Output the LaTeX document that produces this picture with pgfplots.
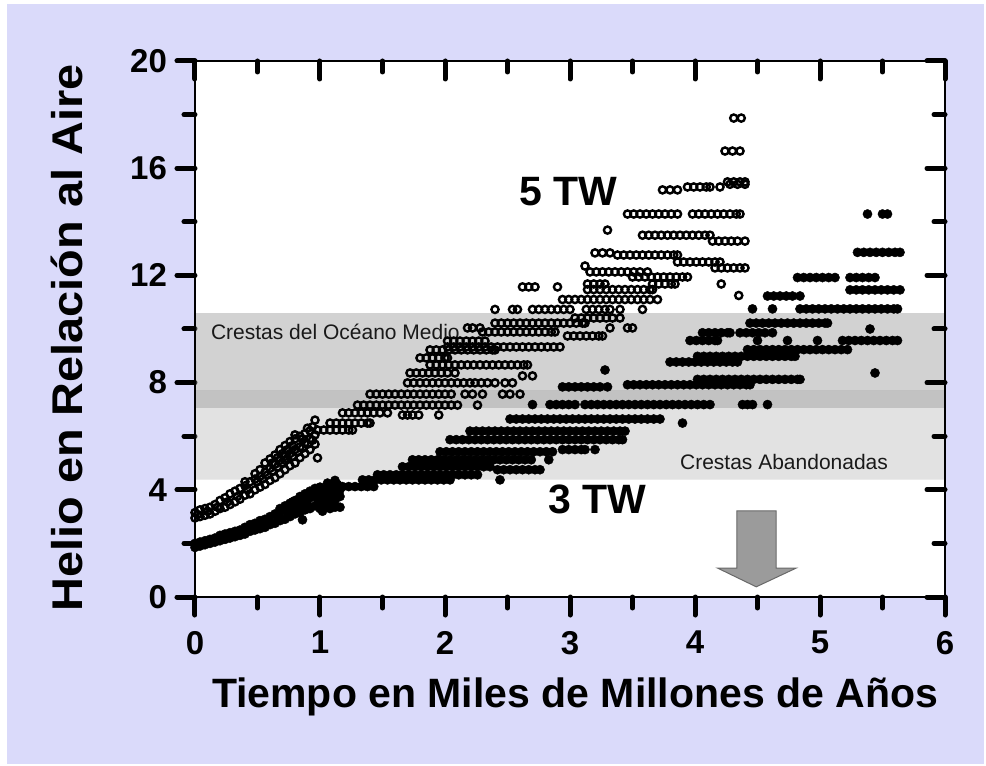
\documentclass[border=0pt]{standalone}
\usepackage{fontspec}
\setmainfont{Liberation Sans}
\usepackage{graphicx}
\usepackage{pgfplots}
\pgfplotsset{compat=1.18}
\newlength{\px}\setlength{\px}{0.5pt}
\definecolor{lav}{RGB}{218,218,250}
\definecolor{bandA}{RGB}{135,135,135}
\definecolor{bandB}{RGB}{157,157,157}
\definecolor{arrowfill}{RGB}{155,155,155}
\definecolor{arrowedge}{RGB}{105,105,105}
\pgfplotsset{
  framestyle/.style={
    at={(0,0)}, anchor=south west, scale only axis,
    width=750\px, height=536\px,
    xmin=0, xmax=6, ymin=0, ymax=20,
    xtick={0,1,2,3,4,5,6}, ytick={0,4,8,12,16,20},
    minor x tick num=1, minor y tick num=1,
    major tick length=18\px, minor tick length=11\px,
    tick style={line width=5\px, line cap=round, black},
    axis line style={line width=2.2\px},
  }
}
\begin{document}
\begin{tikzpicture}
\path[use as bounding box] (-195\px,-169\px) rectangle (791\px,597\px);
\fill[white] (-195\px,-169\px) rectangle (791\px,597\px);
\fill[lav] (-188\px,-167\px) rectangle (789\px,593\px);
\begin{axis}[framestyle,
  axis background/.style={fill=white},
  xtick pos=lower, ytick pos=lower, tick align=outside,
  ticklabel style={font=\fontsize{16.5}{19}\selectfont\bfseries},
  /pgf/number format/assume math mode=true,
  xticklabel style={yshift=-9\px},
  yticklabel style={xshift=-3\px},
]
% ---- 3 TW (filled) ----
\addplot[only marks, mark=*, mark size=4.6\px, mark options={fill=black, draw=black, line width=0.4\px}] coordinates {
(0,1.85)(0,2.0)(0.04,1.9)(0.04,2.05)(0.08,1.95)(0.08,2.1)(0.12,2.0)(0.12,2.15)(0.16,2.05)(0.16,2.2)
(0.2,2.1)(0.2,2.3)(0.24,2.15)(0.24,2.35)(0.28,2.2)(0.28,2.4)(0.32,2.25)(0.32,2.45)(0.36,2.3)(0.36,2.5)
(0.4,2.35)(0.4,2.6)(0.44,2.45)(0.44,2.7)(0.48,2.5)(0.48,2.75)(0.52,2.55)(0.52,2.85)(0.56,2.6)(0.56,2.9)
(0.6,2.7)(0.6,3.0)(0.64,2.75)(0.64,3.1)(0.68,2.85)(0.68,3.15)(0.68,3.3)(0.72,2.9)(0.72,3.25)(0.72,3.4)
(0.76,3.0)(0.76,3.3)(0.76,3.5)(0.8,3.1)(0.8,3.4)(0.8,3.6)(0.84,3.15)(0.84,3.5)(0.84,3.75)(0.86,2.88)
(0.88,3.25)(0.88,3.6)(0.88,3.85)(0.92,3.3)(0.92,3.7)(0.92,3.95)(0.96,3.4)(0.96,3.8)(0.96,4.05)
(1,3.3)(1,3.55)(1,3.9)(1,4.1)(1.04,3.4)(1.04,3.7)(1.04,4.0)(1.08,3.3)(1.08,3.5)(1.08,3.8)(1.08,4.1)
(1.12,3.35)(1.12,3.6)(1.12,3.9)(1.12,4.35)(1.16,3.35)(1.16,3.75)(1.16,4.0)
(0.02,1.95)(0.1,2.05)(0.18,2.15)(0.26,2.25)(0.34,2.4)(0.42,2.5)(0.5,2.65)(0.58,2.8)(0.66,3.0)(0.74,3.15)
(0.82,3.3)(0.9,3.45)(0.98,3.65)(1.06,3.9)(1.14,4.2)(1.02,3.2)(1.06,4.25)(0.78,3.55)(0.94,3.85)
(1.18,4.12)(1.23,4.12)(1.28,4.12)(1.33,4.12)(1.38,4.12)(1.43,4.12)
(1.34,4.37)(1.39,4.37)(1.44,4.37)(1.49,4.37)(1.54,4.37)(1.59,4.37)(1.64,4.37)(1.69,4.37)(1.74,4.37)(1.79,4.37)(1.84,4.37)(1.89,4.37)(1.94,4.37)(1.99,4.37)(2.04,4.37)(2.44,4.37)
(1.46,4.56)(1.51,4.56)(1.56,4.56)(1.61,4.56)(1.66,4.56)(1.71,4.56)(1.76,4.56)(1.81,4.56)(1.86,4.56)(1.91,4.56)(1.96,4.56)(2.01,4.56)(2.06,4.56)(2.11,4.56)(2.16,4.56)(2.21,4.56)(2.26,4.56)
(2.42,4.75)(2.47,4.75)(2.52,4.75)(2.57,4.75)(2.62,4.75)(2.67,4.75)(2.72,4.75)(2.76,4.75)
(1.66,4.86)(1.71,4.86)(1.76,4.86)(1.81,4.86)(1.86,4.86)(1.91,4.86)(1.96,4.86)(2.01,4.86)(2.06,4.86)(2.11,4.86)(2.16,4.86)(2.21,4.86)(2.26,4.86)(2.31,4.86)(2.36,4.86)
(1.74,5.12)(1.79,5.12)(1.84,5.12)(1.89,5.12)(1.94,5.12)(1.99,5.12)(2.04,5.12)(2.09,5.12)(2.14,5.12)(2.19,5.12)(2.24,5.12)(2.29,5.12)(2.34,5.12)(2.39,5.12)(2.44,5.12)(2.49,5.12)(2.54,5.12)(2.59,5.12)(2.64,5.12)(2.69,5.12)(2.83,5.12)
(1.96,5.42)(2.01,5.42)(2.06,5.42)(2.11,5.42)(2.16,5.42)(2.21,5.42)(2.26,5.42)(2.31,5.42)(2.36,5.42)(2.41,5.42)(2.46,5.42)(2.51,5.42)(2.56,5.42)(2.61,5.42)(2.66,5.42)(2.71,5.42)(2.76,5.42)(2.81,5.42)(2.86,5.42)
(2.94,5.5)(2.99,5.5)(3.04,5.5)(3.09,5.5)(3.12,5.5)(3.2,5.5)
(2.04,5.87)(2.09,5.87)(2.14,5.87)(2.19,5.87)(2.24,5.87)(2.29,5.87)(2.34,5.87)(2.39,5.87)(2.44,5.87)(2.49,5.87)(2.54,5.87)(2.59,5.87)(2.64,5.87)(2.69,5.87)(2.74,5.87)(2.79,5.87)(2.84,5.87)(2.89,5.87)(2.94,5.87)(2.99,5.87)(3.04,5.87)(3.09,5.87)(3.14,5.87)(3.19,5.87)(3.24,5.87)(3.29,5.87)(3.34,5.87)(3.39,5.87)(3.42,5.87)
(2.2,6.19)(2.25,6.19)(2.3,6.19)(2.35,6.19)(2.4,6.19)(2.45,6.19)(2.5,6.19)(2.55,6.19)(2.6,6.19)(2.65,6.19)(2.7,6.19)(2.75,6.19)(2.8,6.19)(2.85,6.19)(2.9,6.19)(2.95,6.19)(3.0,6.19)(3.05,6.19)(3.1,6.19)(3.15,6.19)(3.2,6.19)(3.25,6.19)(3.3,6.19)(3.35,6.19)(3.4,6.19)(3.44,6.19)
(2.52,6.64)(2.57,6.64)(2.62,6.64)(2.67,6.64)(2.72,6.64)(2.77,6.64)(2.82,6.64)(2.87,6.64)(2.92,6.64)(2.97,6.64)(3.02,6.64)(3.07,6.64)(3.12,6.64)(3.17,6.64)(3.22,6.64)(3.27,6.64)(3.32,6.64)(3.37,6.64)(3.42,6.64)(3.47,6.64)(3.52,6.64)(3.57,6.64)(3.62,6.64)(3.67,6.64)(3.72,6.64)(3.9,6.49)
(2.7,7.18)(2.84,7.18)(2.89,7.18)(2.94,7.18)(2.99,7.18)(3.04,7.18)(3.12,7.18)(3.17,7.18)(3.22,7.18)(3.27,7.18)(3.32,7.18)(3.37,7.18)(3.42,7.18)(3.47,7.18)(3.52,7.18)(3.57,7.18)(3.62,7.18)(3.67,7.18)(3.72,7.18)(3.77,7.18)(3.82,7.18)(3.87,7.18)(3.92,7.18)(3.97,7.18)(4.02,7.18)(4.07,7.18)(4.12,7.18)(4.38,7.18)(4.42,7.18)(4.46,7.18)(4.58,7.18)
(2.94,7.84)(2.99,7.84)(3.04,7.84)(3.09,7.84)(3.14,7.84)(3.19,7.84)(3.24,7.84)(3.3,7.84)
(3.46,7.92)(3.51,7.92)(3.56,7.92)(3.61,7.92)(3.66,7.92)(3.71,7.92)(3.76,7.92)(3.81,7.92)(3.86,7.92)(3.91,7.92)(3.96,7.92)(4.01,7.92)(4.06,7.92)(4.11,7.92)(4.16,7.92)(4.21,7.92)(4.26,7.92)(4.31,7.92)(4.36,7.92)(4.41,7.92)(4.44,7.92)
(4.02,8.12)(4.07,8.12)(4.12,8.12)(4.17,8.12)(4.22,8.12)(4.27,8.12)(4.32,8.12)(4.37,8.12)(4.42,8.12)(4.47,8.12)(4.52,8.12)(4.57,8.12)(4.62,8.12)(4.67,8.12)(4.72,8.12)(4.77,8.12)(4.82,8.12)(4.84,8.12)
(3.28,8.47)(5.44,8.36)
(3.8,8.77)(3.85,8.77)(3.9,8.77)(3.95,8.77)(4.0,8.77)(4.05,8.77)(4.1,8.77)(4.15,8.77)(4.2,8.77)(4.25,8.77)(4.3,8.77)(4.34,8.77)
(4.02,8.98)(4.07,8.98)(4.12,8.98)(4.17,8.98)(4.22,8.98)(4.27,8.98)(4.32,8.98)(4.37,8.98)(4.42,8.98)(4.47,8.98)(4.52,8.98)(4.57,8.98)(4.62,8.98)(4.67,8.98)(4.72,8.98)(4.77,8.98)(4.8,8.98)
(4.42,9.23)(4.47,9.23)(4.52,9.23)(4.57,9.23)(4.62,9.23)(4.67,9.23)(4.72,9.23)(4.77,9.23)(4.82,9.23)(4.87,9.23)(4.92,9.23)(4.97,9.23)(5.02,9.23)(5.07,9.23)(5.12,9.23)(5.17,9.23)(5.22,9.23)
(3.96,9.57)(4.01,9.57)(4.06,9.57)(4.11,9.57)(4.16,9.57)(4.18,9.57)(4.5,9.57)(4.74,9.57)(4.98,9.57)(5.18,9.57)(5.23,9.57)(5.28,9.57)(5.33,9.57)(5.38,9.57)(5.43,9.57)(5.48,9.57)(5.53,9.57)(5.58,9.57)(5.62,9.57)
(4.06,9.86)(4.11,9.86)(4.16,9.86)(4.21,9.86)(4.26,9.86)(4.28,9.86)(4.36,9.86)(4.41,9.86)(4.46,9.86)(4.51,9.86)(4.56,9.86)(4.62,9.86)
(5.4,10.0)
(4.44,10.22)(4.49,10.22)(4.54,10.22)(4.59,10.22)(4.64,10.22)(4.69,10.22)(4.74,10.22)(4.79,10.22)(4.84,10.22)(4.89,10.22)(4.94,10.22)(4.99,10.22)(5.04,10.22)(5.06,10.22)
(4.46,10.75)(4.62,10.75)(4.84,10.75)(4.89,10.75)(4.94,10.75)(4.99,10.75)(5.04,10.75)(5.09,10.75)(5.14,10.75)(5.19,10.75)(5.24,10.75)(5.29,10.75)(5.34,10.75)(5.39,10.75)(5.44,10.75)(5.49,10.75)(5.54,10.75)(5.59,10.75)(5.62,10.75)
(4.58,11.23)(4.63,11.23)(4.68,11.23)(4.73,11.23)(4.78,11.23)(4.84,11.23)
(5.24,11.46)(5.29,11.46)(5.34,11.46)(5.39,11.46)(5.44,11.46)(5.49,11.46)(5.54,11.46)(5.59,11.46)(5.64,11.46)
(4.82,11.92)(4.87,11.92)(4.92,11.92)(4.97,11.92)(5.02,11.92)(5.07,11.92)(5.12,11.92)(5.24,11.92)(5.29,11.92)(5.34,11.92)(5.39,11.92)(5.44,11.92)
(5.3,12.86)(5.35,12.86)(5.4,12.86)(5.45,12.86)(5.5,12.86)(5.55,12.86)(5.6,12.86)(5.64,12.86)
(5.38,14.29)(5.5,14.29)(5.54,14.29)
};
% ---- 5 TW (open) ----
\addplot[only marks, mark=o, mark size=3.6\px, mark options={draw=black, line width=2.4\px}] coordinates {
(0,2.95)(0,3.15)(0.04,3.0)(0.04,3.25)(0.08,3.05)(0.08,3.3)(0.12,3.1)(0.12,3.35)(0.16,3.2)(0.16,3.45)
(0.2,3.3)(0.2,3.6)(0.24,3.35)(0.24,3.7)(0.28,3.45)(0.28,3.85)(0.32,3.55)(0.32,3.95)(0.36,3.65)(0.36,4.05)
(0.4,3.8)(0.4,4.15)(0.4,4.3)(0.44,3.85)(0.44,4.3)(0.48,4.0)(0.48,4.4)(0.48,4.6)(0.52,4.1)(0.52,4.5)(0.52,4.75)
(0.56,4.2)(0.56,4.65)(0.56,5.0)(0.6,4.35)(0.6,4.8)(0.6,5.15)(0.64,4.45)(0.64,4.95)(0.64,5.3)
(0.68,4.6)(0.68,5.1)(0.68,5.5)(0.72,4.75)(0.72,5.1)(0.72,5.25)(0.72,5.65)(0.76,4.9)(0.76,5.35)(0.76,5.8)
(0.8,5.0)(0.8,5.5)(0.8,5.9)(0.8,6.05)(0.84,5.2)(0.84,5.6)(0.84,6.0)(0.88,5.35)(0.88,5.75)(0.88,6.1)
(0.92,5.5)(0.92,5.9)(0.92,6.2)(0.96,5.7)(0.96,6.05)(0.96,6.6)(0.98,5.19)
(0.02,3.08)(0.1,3.2)(0.18,3.35)(0.26,3.55)(0.34,3.75)(0.42,4.0)
(0.5,4.3)(0.54,4.4)(0.58,4.55)(0.62,4.7)(0.66,4.85)(0.7,5.0)(0.74,5.15)(0.78,5.25)(0.82,5.4)(0.86,5.55)(0.9,5.7)(0.94,5.85)
(0.62,5.0)(0.7,5.35)(0.78,5.65)(0.86,5.9)(0.9,6.3)(0.94,6.35)(0.66,5.2)(0.74,5.5)
(0.98,6.23)(1.03,6.23)(1.08,6.23)(1.13,6.23)(1.18,6.23)(1.23,6.23)(1.26,6.23)
(1.08,6.49)(1.13,6.49)(1.18,6.49)(1.23,6.49)(1.28,6.49)(1.33,6.49)(1.38,6.49)(1.4,6.49)
(1.18,6.87)(1.23,6.87)(1.28,6.87)(1.33,6.87)(1.38,6.87)(1.43,6.87)(1.48,6.87)(1.54,6.87)
(1.3,7.16)(1.35,7.16)(1.4,7.16)(1.45,7.16)(1.5,7.16)(1.55,7.16)(1.6,7.16)(1.65,7.16)(1.7,7.16)(1.75,7.16)(1.8,7.16)(1.85,7.16)(1.9,7.16)(1.95,7.16)(2.0,7.16)(2.05,7.16)(2.1,7.16)(2.26,7.16)
(1.4,7.57)(1.45,7.57)(1.5,7.57)(1.55,7.57)(1.6,7.57)(1.65,7.57)(1.7,7.57)(1.75,7.57)(1.8,7.57)(1.85,7.57)(1.9,7.57)(1.95,7.57)(2.0,7.57)(2.05,7.57)(2.16,7.57)(2.22,7.57)(2.3,7.57)(2.46,7.57)(2.52,7.57)(2.6,7.57)
(1.66,6.79)(1.7,6.79)(1.74,6.79)(1.79,6.79)(1.95,6.79)
(1.7,7.99)(1.75,7.99)(1.8,7.99)(1.85,7.99)(1.9,7.99)(1.95,7.99)(2.0,7.99)(2.05,7.99)(2.1,7.99)(2.15,7.99)(2.2,7.99)(2.24,7.99)(2.29,7.99)(2.34,7.99)(2.4,7.99)(2.48,7.99)(2.54,7.99)
(2.62,8.25)(2.7,8.25)
(1.72,8.36)(1.77,8.36)(1.82,8.36)(1.87,8.36)(1.92,8.36)(1.97,8.36)(2.02,8.36)(2.08,8.36)
(1.88,8.66)(1.93,8.66)(1.98,8.66)(2.03,8.66)(2.08,8.66)(2.13,8.66)(2.18,8.66)(2.23,8.66)(2.28,8.66)(2.33,8.66)(2.38,8.66)(2.43,8.66)(2.48,8.66)(2.53,8.66)(2.58,8.66)(2.63,8.66)(2.66,8.66)
(1.8,8.92)(1.85,8.92)(1.9,8.92)(1.95,8.92)(2.0,8.92)(2.02,8.92)
(1.88,9.22)(1.93,9.22)(1.98,9.22)(2.03,9.22)(2.08,9.22)(2.13,9.22)(2.18,9.22)(2.23,9.22)(2.28,9.22)(2.33,9.22)(2.38,9.22)(2.4,9.22)
(2.02,9.33)(2.07,9.33)(2.12,9.33)(2.17,9.33)(2.22,9.33)(2.27,9.33)(2.32,9.33)(2.37,9.33)(2.42,9.33)(2.47,9.33)(2.52,9.33)(2.57,9.33)(2.62,9.33)(2.67,9.33)(2.72,9.33)(2.77,9.33)(2.82,9.33)(2.87,9.33)(2.92,9.33)
(2.02,9.55)(2.07,9.55)(2.12,9.55)(2.17,9.55)(2.22,9.55)(2.27,9.55)(2.32,9.55)
(2.98,9.74)(3.03,9.74)(3.08,9.74)(3.13,9.74)(3.18,9.74)(3.23,9.74)(3.26,9.74)
(2.3,9.89)(2.35,9.89)(2.4,9.89)(2.45,9.89)(2.5,9.89)(2.55,9.89)(2.6,9.89)(2.65,9.89)(2.7,9.89)(2.75,9.89)(2.8,9.89)(2.85,9.89)(2.88,9.89)
(2.18,10.04)(2.22,10.04)(2.28,10.04)(3.32,10.04)(3.46,10.04)(3.5,10.04)
(2.4,10.22)(2.45,10.22)(2.5,10.22)(2.55,10.22)(2.6,10.22)(2.65,10.22)(2.7,10.22)(2.75,10.22)(2.8,10.22)(2.85,10.22)(2.9,10.22)(2.95,10.22)(3.0,10.22)(3.05,10.22)(3.1,10.22)(3.12,10.22)
(3.04,10.41)(3.09,10.41)(3.14,10.41)(3.19,10.41)(3.24,10.41)(3.29,10.41)(3.34,10.41)(3.4,10.41)
(2.4,10.73)(2.54,10.73)(2.58,10.73)(2.7,10.73)(2.75,10.73)(2.8,10.73)(2.85,10.73)(2.9,10.73)(2.95,10.73)(3.0,10.73)(3.13,10.73)(3.18,10.73)(3.23,10.73)(3.28,10.73)(3.32,10.73)(3.4,10.73)(3.58,10.73)
(2.94,11.1)(2.99,11.1)(3.04,11.1)(3.09,11.1)(3.14,11.1)(3.19,11.1)(3.24,11.1)(3.29,11.1)(3.34,11.1)(3.39,11.1)(3.44,11.1)(3.49,11.1)(3.54,11.1)(3.59,11.1)(3.64,11.1)(3.7,11.1)
(4.35,11.25)
(2.62,11.57)(2.67,11.57)(2.72,11.57)(2.9,11.57)
(3.14,11.47)(3.19,11.47)(3.24,11.47)(3.29,11.47)(3.34,11.47)(3.39,11.47)(3.44,11.47)(3.49,11.47)(3.54,11.47)(3.59,11.47)(3.64,11.47)(3.66,11.47)
(3.14,11.68)(3.19,11.68)(3.24,11.68)(3.28,11.68)(3.66,11.68)(3.71,11.68)(3.76,11.68)(3.81,11.68)(3.84,11.68)(4.21,11.68)
(3.16,12.13)(3.21,12.13)(3.26,12.13)(3.31,12.13)(3.36,12.13)(3.41,12.13)(3.46,12.13)(3.51,12.13)(3.56,12.13)(3.62,12.13)
(3.5,11.94)(3.55,11.94)(3.6,11.94)(3.65,11.94)(3.7,11.94)(3.75,11.94)(3.8,11.94)(3.85,11.94)(3.9,11.94)(3.94,11.94)
(3.12,12.35)
(3.2,12.84)(3.26,12.84)(3.32,12.84)
(3.38,12.76)(3.43,12.76)(3.48,12.76)(3.53,12.76)(3.58,12.76)(3.63,12.76)(3.68,12.76)(3.73,12.76)(3.78,12.76)(3.83,12.76)(3.86,12.76)
(3.86,12.5)(3.91,12.5)(3.96,12.5)(4.01,12.5)(4.06,12.5)(4.11,12.5)(4.16,12.5)(4.2,12.5)
(4.16,12.28)(4.21,12.28)(4.26,12.28)(4.31,12.28)(4.36,12.28)(4.4,12.28)
(3.58,13.5)(3.63,13.5)(3.68,13.5)(3.73,13.5)(3.78,13.5)(3.83,13.5)(3.88,13.5)(3.93,13.5)(3.98,13.5)(4.03,13.5)(4.08,13.5)(4.12,13.5)
(4.14,13.28)(4.19,13.28)(4.24,13.28)(4.29,13.28)(4.34,13.28)(4.4,13.28)
(3.3,13.69)
(3.46,14.29)(3.51,14.29)(3.56,14.29)(3.61,14.29)(3.66,14.29)(3.71,14.29)(3.76,14.29)(3.81,14.29)(3.86,14.29)(3.98,14.29)(4.03,14.29)(4.08,14.29)(4.13,14.29)(4.18,14.29)(4.23,14.29)(4.28,14.29)(4.33,14.29)(4.36,14.29)
(3.74,15.19)(3.8,15.19)(3.86,15.19)
(3.94,15.3)(3.99,15.3)(4.04,15.3)(4.09,15.3)(4.12,15.3)(4.2,15.3)
(4.26,15.49)(4.31,15.49)(4.36,15.49)(4.4,15.49)(4.28,15.4)(4.34,15.4)(4.4,15.4)
(4.24,16.64)(4.3,16.64)(4.36,16.64)
(4.31,17.87)(4.37,17.87)
};
% ---- shaded bands ----
\addplot[draw=none, fill=bandA, fill opacity=0.37] coordinates {(0,7.04) (6,7.04) (6,10.59) (0,10.59)} -- cycle;
\addplot[draw=black, draw opacity=0.08, fill=bandB, fill opacity=0.29] coordinates {(0,4.39) (6,4.39) (6,7.70) (0,7.70)} -- cycle;
% ---- arrow ----
\addplot[fill=arrowfill, draw=arrowedge, line width=1\px] coordinates {(4.334,3.21) (4.648,3.21) (4.648,1.08) (4.81,1.08) (4.49,0.38) (4.18,1.08) (4.334,1.08)} -- cycle;
% ---- annotations ----
\node[anchor=base west, text=black!90, font=\fontsize{10.5}{12}\selectfont] at (axis cs:0.072,9.59) {Crestas del Océano Medio};
\node[anchor=base east, text=black!90, font=\fontsize{10.5}{12}\selectfont] at (axis cs:5.6,4.77) {Crestas Abandonadas};
\node[anchor=base, font=\fontsize{20.5}{24}\selectfont\bfseries] at (axis cs:2.99,14.59) {5 TW};
\node[anchor=base, font=\fontsize{20.5}{24}\selectfont\bfseries] at (axis cs:3.22,3.1) {3 TW};
\end{axis}
\begin{axis}[framestyle,
  xtick pos=upper, ytick pos=upper, tick align=inside,
  xticklabels={}, yticklabels={},
]
\addplot[draw=none] coordinates {(0,0) (6,20)};
\end{axis}
\node[anchor=base, font=\fontsize{20.5}{24}\selectfont\bfseries] at (380\px,-110\px) {Tiempo en Miles de Millones de Años};
\node[anchor=base, rotate=90, font=\fontsize{21.5}{24}\selectfont\bfseries] at (-112\px,259\px) {\scalebox{1.09}[1]{Helio en Relación al Aire}};
\end{tikzpicture}
\end{document}
